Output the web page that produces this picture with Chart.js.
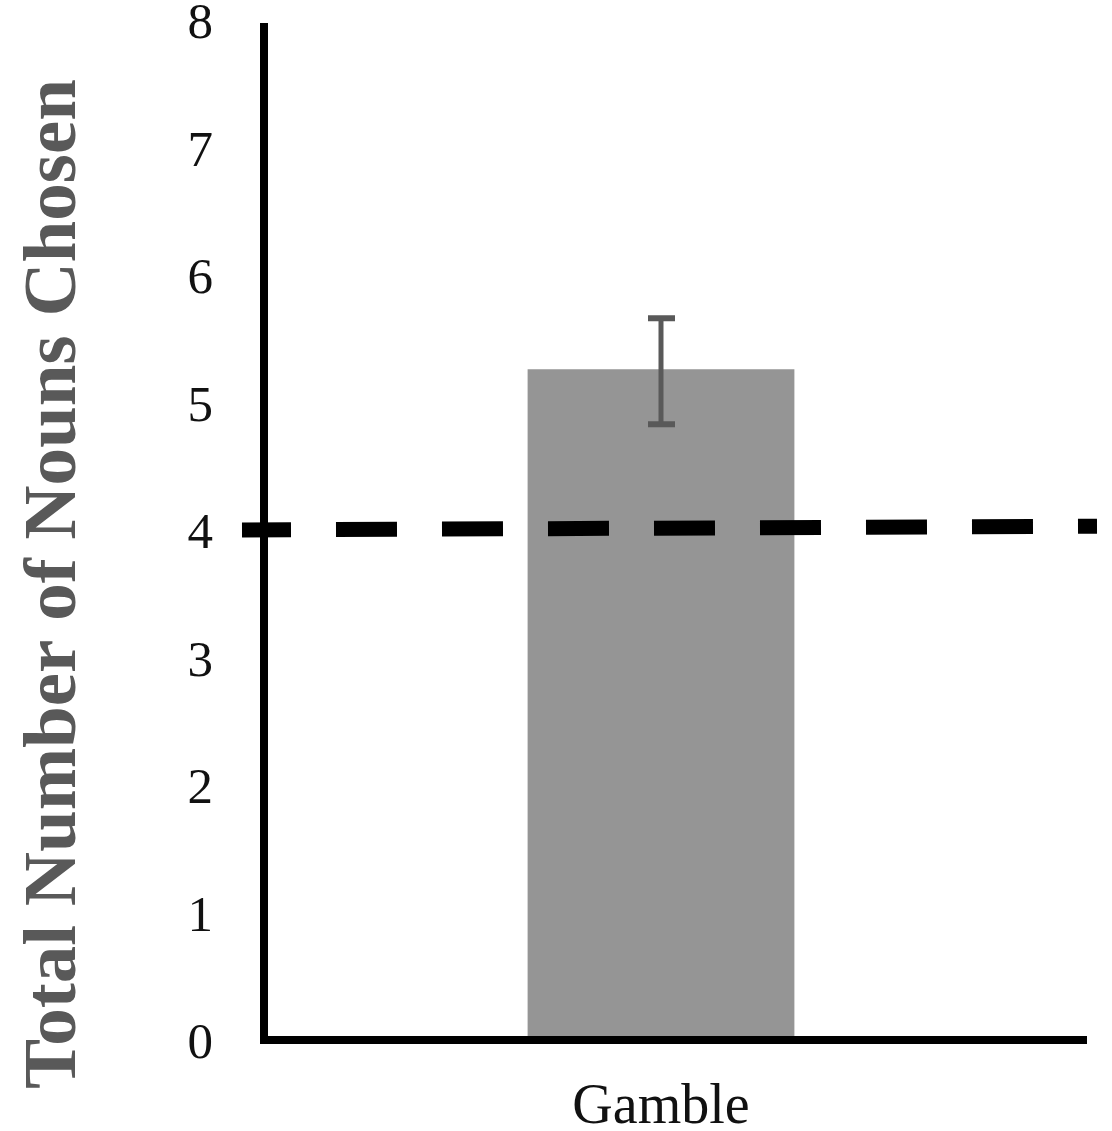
<!DOCTYPE html>
<html>
<head>
<meta charset="utf-8">
<script src="https://cdn.jsdelivr.net/npm/chart.js"></script>
<style>
  html, body { margin: 0; padding: 0; background: #fff; }
  #wrap { width: 1112px; height: 1131px; }
</style>
</head>
<body>
<div id="wrap"><canvas id="nounChart"></canvas></div>
<script>
// --- data ---
const categories = ["Gamble"];
const meanValues = [5.26];
const errUpper = [5.66];
const errLower = [4.83];
const yTicks = [0, 1, 2, 3, 4, 5, 6, 7, 8];
const chanceLine = [4.0, 4.03]; // dashed reference line, left end / right end
const yTitle = "Total Number of Nouns Chosen";

const serif = '"Liberation Serif", "Times New Roman", serif';

// error bars, dashed chance line, axis lines, rotated y title
const extrasPlugin = {
  id: "extras",
  afterDatasetsDraw(chart) {
    const { ctx, chartArea: a, scales: { x, y } } = chart;
    ctx.save();

    // error bar
    categories.forEach((c, i) => {
      const cx = x.getPixelForValue(i);
      const yt = y.getPixelForValue(errUpper[i]);
      const yb = y.getPixelForValue(errLower[i]);
      ctx.strokeStyle = "#595959";
      ctx.lineCap = "butt";
      ctx.lineWidth = 5;
      ctx.beginPath();
      ctx.moveTo(cx, yt);
      ctx.lineTo(cx, yb);
      ctx.stroke();
      ctx.lineWidth = 6;
      ctx.beginPath();
      ctx.moveTo(cx - 13, yt);
      ctx.lineTo(cx + 14, yt);
      ctx.moveTo(cx - 13, yb);
      ctx.lineTo(cx + 14, yb);
      ctx.stroke();
    });

    // dashed line at chance level
    ctx.strokeStyle = "#000";
    ctx.lineWidth = 15;
    ctx.setLineDash([61, 45]);
    ctx.lineDashOffset = 12;
    ctx.beginPath();
    ctx.moveTo(a.left - 22, y.getPixelForValue(chanceLine[0]));
    ctx.lineTo(a.right + 39, y.getPixelForValue(chanceLine[1]));
    ctx.stroke();
    ctx.setLineDash([]);

    // axis lines
    ctx.lineWidth = 8;
    ctx.lineJoin = "miter";
    ctx.beginPath();
    ctx.moveTo(a.left, y.getPixelForValue(yTicks[yTicks.length - 1]) + 3);
    ctx.lineTo(a.left, a.bottom);
    ctx.lineTo(a.right + 29, a.bottom);
    ctx.stroke();

    // y axis title
    ctx.translate(75, 584);
    ctx.rotate(-Math.PI / 2);
    ctx.fillStyle = "#595959";
    ctx.font = "bold 75px " + serif;
    ctx.textAlign = "center";
    ctx.textBaseline = "alphabetic";
    ctx.fillText(yTitle, 0, 0);

    ctx.restore();
  }
};

const ctx = document.getElementById("nounChart").getContext("2d");

new Chart(ctx, {
  type: "bar",
  data: {
    labels: categories,
    datasets: [{
      data: meanValues,
      backgroundColor: "#959595",
      borderWidth: 0,
      barPercentage: 0.336,
      categoryPercentage: 1,
    }],
  },
  options: {
    responsive: true,
    maintainAspectRatio: false,
    animation: false,
    layout: { padding: { left: 188, right: 54, top: 20, bottom: 0 } },
    plugins: {
      legend: { display: false },
      tooltip: { enabled: false },
    },
    scales: {
      x: {
        grid: { display: false, drawTicks: false },
        border: { display: false },
        ticks: {
          color: "#111",
          font: { family: serif, size: 56, lineHeight: 1 },
          padding: 40,
        },
        afterFit: s => {
          s.height = 91;
          s.paddingLeft = 0;
          s.paddingRight = 0;
        },
      },
      y: {
        min: 0,
        max: 8,
        grid: { display: false, drawTicks: false },
        border: { display: false },
        afterBuildTicks: scale => { scale.ticks = yTicks.map(v => ({ value: v })); },
        ticks: {
          color: "#111",
          font: { family: serif, size: 51, lineHeight: 0.8 },
          padding: 51,
          labelOffset: 5,
        },
        afterFit: s => {
          s.width = 76;
          s.paddingTop = 0;
          s.paddingBottom = 0;
        },
      },
    },
  },
  plugins: [extrasPlugin],
});
</script>
</body>
</html>
